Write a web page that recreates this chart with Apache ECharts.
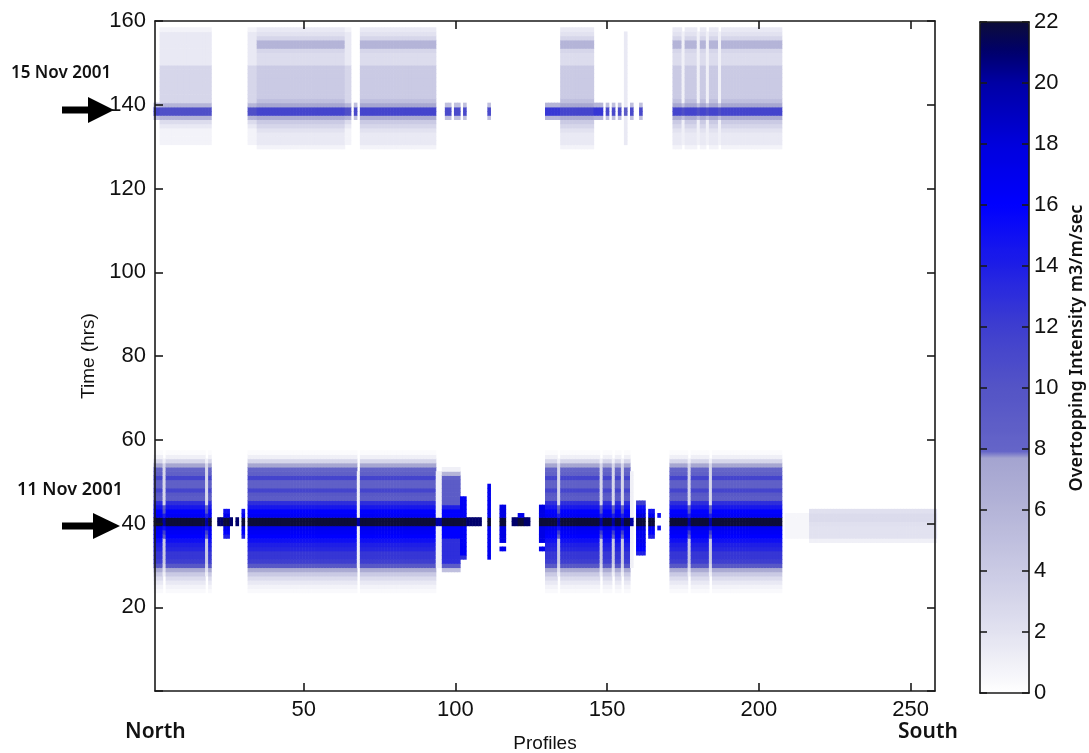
<!DOCTYPE html>
<html><head><meta charset="utf-8">
<script src="https://cdn.jsdelivr.net/npm/echarts@6/dist/echarts.min.js"></script>
<style>html,body{margin:0;padding:0;background:#fff}#c{width:1089px;height:753px}</style>
</head><body><div id="c"></div><script>
// ---------------- DATA ----------------
// X axis tick labels (profiles) and colour bar ticks
const xTickValues = [50, 100, 150, 200, 250];
const colorbarTicks = [0, 2, 4, 6, 8, 10, 12, 14, 16, 18, 20, 22];

// Storm of 11 Nov 2001: hours covered by the vertical intensity profiles
const storm1Hours = [24,25,26,27,28,29,30,31,32,33,34,35,36,37,38,39,40,41,42,43,44,45,46,47,48,49,50,51,52,53,54,55,56,57];
// Intensity (m3/m/sec) against storm1Hours for each kind of profile column
const full1      = [0.4,0.8,1.5,2.5,4,7,9.5,12,12.5,12.5,13.5,14,15,16,16.5,17,22,22,16.5,16,14.5,13,9,9.5,11.5,8.5,8.5,11.5,8.5,8,7.5,3,1,0.3];
const streak1    = [0,0,0,0,1,2,3,4,4,4,4,4,4,8.5,12,15,20,20,14,10,8.5,3,3,3,3,3,3,3,3,3,3,1,0,0];
const gap1       = [0,0,0,0,0,0,1,1,1,1,1,1,1,1,1,1,20,20,1,1,1,1,1,1,1,1,1,1,1,0,0,0,0,0];
const partial1   = [0,0,0,0,0,5,9,13,13,13,13,13,13,16,16,16,22,22,16,16,14,9,9,9,9,9,9,8.5,6,1,0,0,0,0];
const blob1      = [0,0,0,0,0,0,0,0,0,0,0,0,0,14,16,17,22,22,17,15,0,0,0,0,0,0,0,0,0,0,0,0,0,0];
const blobSmall1 = [0,0,0,0,0,0,0,0,0,0,0,0,0,0,0,0,22,22,17,0,0,0,0,0,0,0,0,0,0,0,0,0,0,0];
const blobBig1   = [0,0,0,0,0,0,0,0,0,14,16,16.5,17,17,17,18,22,22,18,16.5,15,12,0,0,0,0,0,0,0,0,0,0,0,0];
const dot1       = [0,0,0,0,0,0,0,0,0,0,0,0,0,0,0,0,21,21,0,0,0,0,0,0,0,0,0,0,0,0,0,0,0,0];
const tall1      = [0,0,0,0,0,0,0,0,13,16.5,16.5,16.5,16.5,16.5,16.5,16.5,22,22,16.5,16.5,16.5,16.5,16.5,0,0,0,0,0,0,0,0,0,0,0];
const long1      = [0,0,0,0,0,0,0,0,17,17,17,17,17,17,17,17,22,22,17,17,17,17,17,17,17,17,0,0,0,0,0,0,0,0];
const bang1      = [0,0,0,0,0,0,0,0,0,0,17,0,17.5,17.5,17.5,17.5,22,22,17.5,17.5,17.5,0,0,0,0,0,0,0,0,0,0,0,0,0];
const colon1     = [0,0,0,0,0,0,0,0,0,0,0,0,0,0,0,15,0,0,15,0,0,0,0,0,0,0,0,0,0,0,0,0,0,0];
const faint1     = [0,0,0,0,0,0,0,0,0,0,0,0,1,2,2,2,2.2,2.6,2.6,2.2,0,0,0,0,0,0,0,0,0,0,0,0,0,0];
const veryFaint1 = [0,0,0,0,0,0,0,0,0,0,0,0,0,0.6,0.6,0.6,0.6,0.6,0.6,0,0,0,0,0,0,0,0,0,0,0,0,0,0,0];

// Which profile kind each run of profiles (first, last) shows in storm 1
const storm1Runs = [
  [1,3,'full1'],[4,4,'streak1'],[5,17,'full1'],[18,18,'streak1'],[19,19,'full1'],
  [22,23,'dot1'],[24,25,'blob1'],[26,26,'dot1'],[28,28,'dot1'],[30,30,'blob1'],
  [32,67,'full1'],[68,68,'gap1'],[69,93,'full1'],[94,95,'gap1'],[96,101,'partial1'],
  [102,103,'tall1'],[104,108,'dot1'],[111,111,'long1'],[115,116,'bang1'],
  [119,120,'dot1'],[121,122,'blobSmall1'],[123,124,'dot1'],[128,129,'bang1'],
  [130,133,'full1'],[134,134,'streak1'],[135,147,'full1'],[148,148,'streak1'],
  [149,151,'full1'],[152,152,'streak1'],[153,154,'full1'],[155,155,'streak1'],
  [156,157,'full1'],[158,158,'gap1'],[160,162,'blobBig1'],[164,165,'blob1'],
  [167,167,'colon1'],[171,176,'full1'],[177,177,'streak1'],[178,183,'full1'],
  [184,184,'streak1'],[185,207,'full1'],[209,216,'veryFaint1'],[217,258,'faint1']
];

// Storm of 15 Nov 2001
const storm2Hours = [130,131,132,133,134,135,136,137,138,139,140,141,142,143,144,145,146,147,148,149,150,151,152,153,154,155,156,157,158];
const full2   = [0.8,1.5,1.5,1.5,2,3,4,7,11.5,11.5,7.5,5,4,4,4,4,4,4,4,4,2.5,2.5,2.5,3,6,6,3,2,1.5];
const left2   = [0,0.8,0.8,0.8,0.8,1.5,2.5,6,10.5,10.5,6,3,3,3,3,3,3,3,3,3,1.5,1.5,1.5,1.5,1.5,1.5,1.5,1.5,0.8];
const thin2   = [0,1,1,1,1,1,1,5,10.5,10.5,5,1,1,1,1,1,1,1,1,1,1,1,1,1,1,1,1,1,0];
const dot2    = [0,0,0,0,0,0,0,5,11,11,5,0,0,0,0,0,0,0,0,0,0,0,0,0,0,0,0,0,0];
const chain2  = [0,0,0,0,0,0,0,6,12.5,12.5,6,0,0,0,0,0,0,0,0,0,0,0,0,0,0,0,0,0,0];
const streak2 = [0,1.5,1.5,1.5,1.5,1.5,1.5,1.5,9,9,1.5,1.5,1.5,1.5,1.5,1.5,1.5,1.5,1.5,1.5,1.5,1.5,1.5,1.5,1.5,1.5,1.5,1.5,0];

const storm2Runs = [
  [1,2,'dot2'],[3,19,'left2'],[32,34,'left2'],[35,63,'full2'],[64,65,'left2'],
  [67,67,'dot2'],[69,93,'full2'],[97,98,'dot2'],[100,101,'dot2'],[103,103,'dot2'],
  [111,111,'dot2'],[130,134,'chain2'],[135,145,'full2'],[146,148,'chain2'],
  [150,150,'dot2'],[152,152,'dot2'],[154,154,'dot2'],[156,156,'streak2'],
  [158,158,'dot2'],[161,161,'dot2'],[172,174,'full2'],[175,175,'thin2'],
  [176,179,'full2'],[180,180,'thin2'],[181,182,'full2'],[183,183,'thin2'],
  [184,186,'full2'],[187,187,'thin2'],[188,207,'full2']
];

// ---------------- build the cell table ----------------
const profileKinds = {full1, streak1, gap1, partial1, blob1, blobSmall1, blobBig1, dot1, tall1, long1, bang1, colon1, faint1, veryFaint1,
  full2, left2, thin2, dot2, chain2, streak2};
const cells = [];
function addRuns(hours, runs) {
  runs.forEach(function (r) {
    const prof = profileKinds[r[2]];
    for (let p = r[0]; p <= r[1]; p++) {
      hours.forEach(function (h, i) { if (prof[i] > 0) cells.push([p, h, prof[i]]); });
    }
  });
}
addRuns(storm1Hours, storm1Runs);
addRuns(storm2Hours, storm2Runs);

// ---------------- colour map (style) ----------------
const anchors = [[0,'#ffffff'],[1,'#f0f0f7'],[2,'#e2e2f0'],[4,'#cacae4'],[6,'#b4b4d8'],[7.7,'#a4a4d0'],
  [7.8,'#6666c8'],[10,'#5454c6'],[12,'#3e3ecf'],[14,'#1e1ee6'],[16,'#0000ff'],[18,'#0000dc'],
  [20,'#0000a4'],[21,'#00006c'],[22,'#0c0c38']];
function hex2rgb(h){return [parseInt(h.substr(1,2),16),parseInt(h.substr(3,2),16),parseInt(h.substr(5,2),16)];}
const colorStops = [];
for (let k = 0; k <= 440; k++) {
  const v = k * 0.05;
  let j = 0; while (j < anchors.length - 2 && v > anchors[j+1][0]) j++;
  const a = anchors[j], b = anchors[j+1];
  const t = Math.max(0, Math.min(1, (v - a[0]) / (b[0] - a[0])));
  const ca = hex2rgb(a[1]), cb = hex2rgb(b[1]);
  colorStops.push('rgb(' + ca.map(function(c,i){return Math.round(c + (cb[i]-c)*t);}).join(',') + ')');
}

// ---------------- chart ----------------
const chart = echarts.init(document.getElementById('c'));
const tickFont = 'Liberation Sans';
const axisLineStyle = {color: '#1a1a1a', width: 1.6};
function renderItem(params, api) {
  const p = api.value(0), h = api.value(1);
  const a = api.coord([p - 0.5, h + 0.5]);
  const b = api.coord([p + 0.5, h - 0.5]);
  return {type: 'rect', shape: {x: a[0], y: a[1], width: b[0] - a[0] + 0.6, height: b[1] - a[1] + 0.6},
    style: {fill: api.visual('color')}};
}
function arrow(yc, x0, x1, headStart) {
  return [
    {type: 'rect', shape: {x: x0, y: yc - 3.5, width: headStart - x0 + 2, height: 7}, style: {fill: '#000'}},
    {type: 'polygon', shape: {points: [[headStart, yc - 13], [x1, yc], [headStart, yc + 13]]}, style: {fill: '#000'}}
  ];
}
const option = {
  animation: false,
  backgroundColor: '#ffffff',
  grid: [
    {left: 155, top: 21, width: 780, height: 670, containLabel: false, outerBoundsMode: 'none'},
    {left: 980, top: 22, width: 49, height: 671, containLabel: false, outerBoundsMode: 'none'}
  ],
  xAxis: [
    {gridIndex: 0, type: 'value', min: 1, max: 258, position: 'bottom', z: 10,
      name: 'Profiles', nameLocation: 'middle', nameGap: 43,
      nameTextStyle: {fontFamily: tickFont, fontSize: 19, color: '#111'},
      axisLine: {onZero: false, lineStyle: axisLineStyle},
      axisTick: {inside: true, length: 8, customValues: xTickValues, lineStyle: axisLineStyle},
      axisLabel: {customValues: xTickValues, fontFamily: tickFont, fontSize: 22, color: '#111', margin: 8},
      splitLine: {show: false}},
    {gridIndex: 0, type: 'value', min: 1, max: 258, position: 'top', z: 10,
      axisLine: {onZero: false, lineStyle: axisLineStyle},
      axisTick: {inside: true, length: 8, customValues: xTickValues, lineStyle: axisLineStyle},
      axisLabel: {show: false}, splitLine: {show: false}},
    {gridIndex: 1, type: 'value', min: 0, max: 1, position: 'bottom', z: 10,
      axisLine: {onZero: false, lineStyle: axisLineStyle}, axisTick: {show: false}, axisLabel: {show: false}, splitLine: {show: false}},
    {gridIndex: 1, type: 'value', min: 0, max: 1, position: 'top', z: 10,
      axisLine: {onZero: false, lineStyle: axisLineStyle}, axisTick: {show: false}, axisLabel: {show: false}, splitLine: {show: false}}
  ],
  yAxis: [
    {gridIndex: 0, type: 'value', min: 0, max: 160, interval: 20, position: 'left', z: 10,
      name: 'Time (hrs)', nameLocation: 'middle', nameGap: 57, nameRotate: 90,
      nameTextStyle: {fontFamily: tickFont, fontSize: 19, color: '#111'},
      axisLine: {onZero: false, lineStyle: axisLineStyle},
      axisTick: {inside: true, length: 8, lineStyle: axisLineStyle},
      axisLabel: {fontFamily: tickFont, fontSize: 22, color: '#111', margin: 9,
        formatter: function (v) { return v === 0 ? '' : String(v); }},
      splitLine: {show: false}},
    {gridIndex: 0, type: 'value', min: 0, max: 160, interval: 20, position: 'right', z: 10,
      axisLine: {onZero: false, lineStyle: axisLineStyle},
      axisTick: {inside: true, length: 8, lineStyle: axisLineStyle},
      axisLabel: {show: false}, splitLine: {show: false}},
    {gridIndex: 1, type: 'value', min: 0, max: 22, interval: 2, position: 'right', z: 10,
      axisLine: {onZero: false, lineStyle: axisLineStyle},
      axisTick: {inside: true, length: 7, lineStyle: axisLineStyle},
      axisLabel: {fontFamily: tickFont, fontSize: 22, color: '#111', margin: 5,
        customValues: colorbarTicks},
      splitLine: {show: false}},
    {gridIndex: 1, type: 'value', min: 0, max: 22, interval: 2, position: 'left', z: 10,
      axisLine: {onZero: false, lineStyle: axisLineStyle},
      axisTick: {inside: true, length: 7, lineStyle: axisLineStyle},
      axisLabel: {show: false}, splitLine: {show: false}}
  ],
  visualMap: {
    type: 'continuous', min: 0, max: 22, seriesIndex: 0, dimension: 2,
    left: 980, top: 22, itemWidth: 49, itemHeight: 671, padding: 0,
    calculable: false, realtime: false, hoverLink: false,
    inRange: {color: colorStops}
  },
  series: [{
    type: 'custom', xAxisIndex: 0, yAxisIndex: 0, clip: true,
    encode: {x: 0, y: 1}, data: cells, renderItem: renderItem
  }],
  graphic: [
    {type: 'text', left: 11, top: 65, style: {text: '15 Nov 2001', font: '600 17px "Noto Sans"', fill: '#111'}},
    {type: 'text', left: 17, top: 481, style: {text: '11 Nov 2001', font: '600 18px "Noto Sans"', fill: '#111'}},
    {type: 'group', children: arrow(110, 62, 114, 88)},
    {type: 'group', children: arrow(526, 62, 120, 93)},
    {type: 'text', left: 125, top: 722, style: {text: 'North', font: '600 21px "Noto Sans"', fill: '#111'}},
    {type: 'text', left: 898, top: 722, style: {text: 'South', font: '600 21px "Noto Sans"', fill: '#111'}},
    {type: 'text', x: 1077, y: 348, rotation: Math.PI / 2,
      style: {text: 'Overtopping Intensity m3/m/sec', font: '600 18px "Noto Sans"', fill: '#111', align: 'center', verticalAlign: 'middle'}}
  ]
};
chart.setOption(option);
</script></body></html>
